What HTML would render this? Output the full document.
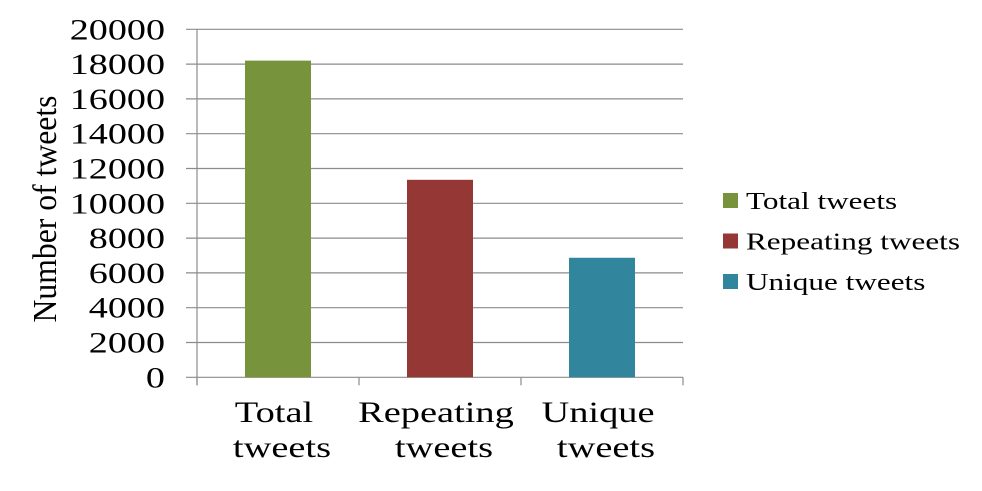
<!DOCTYPE html>
<html><head><meta charset="utf-8"><style>
body{margin:0;background:#fff;width:982px;height:486px;overflow:hidden}
svg text{font-family:"Liberation Serif",serif;fill:#000}
</style></head><body>
<svg width="982" height="486">
<g id="grid"></g><g id="bars"></g><g id="axes"></g>
<text id="ytitle" transform="translate(56,209) rotate(-90)" text-anchor="middle" font-size="34" textLength="227" lengthAdjust="spacingAndGlyphs">Number of tweets</text>
<g id="legend"></g>
</svg>
<script>
const categories=[["Total","tweets"],["Repeating","tweets"],["Unique","tweets"]];
const seriesNames=["Total tweets","Repeating tweets","Unique tweets"];
const values=[18200,11350,6870];
const colors=["#77933c","#953735","#31859c"];
const yTicks=[0,2000,4000,6000,8000,10000,12000,14000,16000,18000,20000];
const NS="http://www.w3.org/2000/svg";
const x0=197,x1=683,y0=377.3,y1=29.3,yMax=20000;
const cw=(x1-x0)/categories.length;
const yS=v=>y0-(v/yMax)*(y0-y1);
function mk(t,a,p){const e=document.createElementNS(NS,t);for(const k in a)e.setAttribute(k,a[k]);p.appendChild(e);return e;}
function stretch(t,k){const w=t.getComputedTextLength();t.setAttribute('textLength',w*k);t.setAttribute('lengthAdjust','spacingAndGlyphs');}
const grid=document.getElementById('grid'),bars=document.getElementById('bars'),axes=document.getElementById('axes'),leg=document.getElementById('legend');
yTicks.forEach(v=>{
 const l=mk('line',{x1:186,x2:x1,y1:yS(v),y2:yS(v),stroke:'#8c8c8c','stroke-width':1.2},grid);
 
 
 const t=mk('text',{x:165,y:yS(v)+10,'text-anchor':'end','font-size':30},axes);
 t.textContent=v;
 
 
 stretch(t,1.27);
});
mk('line',{x1:x0,x2:x0,y1:y1,y2:y0+8,stroke:'#8c8c8c','stroke-width':1.2},axes);
for(let i=0;i<=categories.length;i++){mk('line',{x1:x0+i*cw,x2:x0+i*cw,y1:y0,y2:y0+8,stroke:'#8c8c8c','stroke-width':1.2},axes);}
values.forEach((v,i)=>{
 const cx=x0+cw*(i+0.5);
 const r=mk('rect',{x:cx-33,y:yS(v),width:66,height:y0-yS(v),fill:colors[i]},bars);
 
 
 categories[i].forEach((w,j)=>{
  const t=mk('text',{x:cx-4+j*8,y:422+j*35,'text-anchor':'middle','font-size':30},axes);
  t.textContent=w;
  
  
  stretch(t,1.28);
 });
 const g=mk('g',{},leg);
 
 
 const ly=200+i*40.5;
 mk('rect',{x:723,y:ly-7,width:15,height:15,fill:colors[i]},g);
 const t=mk('text',{x:746,y:ly+9,'font-size':24},g);
 t.textContent=seriesNames[i];
 stretch(t,1.3);
});
</script>
</body></html>
